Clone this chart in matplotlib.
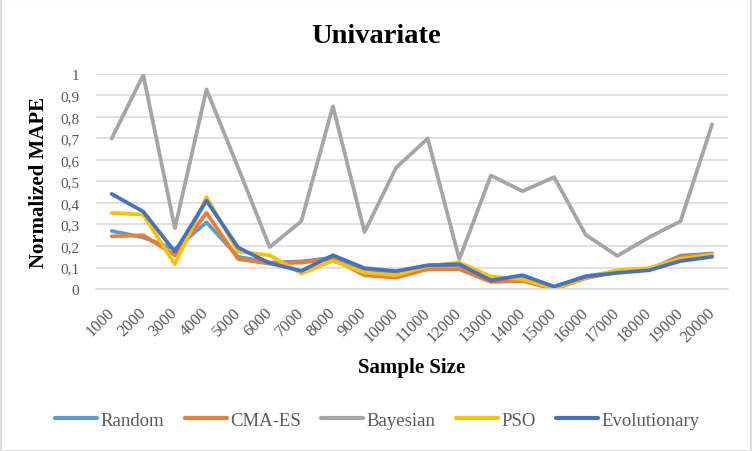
import matplotlib
matplotlib.use("Agg")
import matplotlib.pyplot as plt
from matplotlib.patches import Rectangle

# ── Chart data ──
sample_sizes = [str(n) for n in range(1000, 20001, 1000)]

random_mape = [0.27, 0.24, 0.185, 0.31, 0.15, 0.123, 0.128, 0.146, 0.09, 0.08,
               0.11, 0.11, 0.045, 0.05, 0.01, 0.06, 0.08, 0.09, 0.155, 0.165]
cmaes_mape = [0.245, 0.25, 0.157, 0.354, 0.139, 0.118, 0.123, 0.139, 0.064, 0.053,
              0.092, 0.092, 0.033, 0.037, 0.0, 0.05, 0.08, 0.09, 0.15, 0.16]
bayesian_mape = [0.70, 0.995, 0.283, 0.928, 0.565, 0.195, 0.315, 0.85, 0.265, 0.564,
                 0.70, 0.139, 0.528, 0.455, 0.52, 0.252, 0.154, 0.24, 0.315, 0.766]
pso_mape = [0.354, 0.346, 0.115, 0.427, 0.174, 0.157, 0.072, 0.131, 0.076, 0.064,
            0.107, 0.123, 0.058, 0.045, 0.002, 0.053, 0.087, 0.097, 0.14, 0.16]
evo_mape = [0.442, 0.36, 0.173, 0.411, 0.193, 0.12, 0.084, 0.157, 0.097, 0.083,
            0.11, 0.115, 0.04, 0.064, 0.011, 0.058, 0.075, 0.087, 0.13, 0.15]

series = [
    ("Random", random_mape, "#5B9BD5"),
    ("CMA-ES", cmaes_mape, "#ED7D31"),
    ("Bayesian", bayesian_mape, "#A5A5A5"),
    ("PSO", pso_mape, "#FFC000"),
    ("Evolutionary", evo_mape, "#4472C4"),
]

y_ticks = [i / 10 for i in range(11)]
y_tick_labels = ["0"] + [f"0,{i}" for i in range(1, 10)] + ["1"]

plt.rcParams["font.family"] = ["Liberation Serif", "DejaVu Serif"]
TEXT_GRAY = "#595959"
GRID_GRAY = "#D9D9D9"

fig = plt.figure(figsize=(7.52, 4.52), dpi=100)
ax = fig.add_axes([0.1275, 0.3584, 0.8405, 0.4757])

x = list(range(len(sample_sizes)))
for name, values, color in series:
    ax.plot(x, values, color=color, linewidth=2.7, label=name,
            solid_capstyle="round", solid_joinstyle="round")

ax.set_xlim(-0.5, len(sample_sizes) - 0.5)
ax.set_ylim(0, 1)
ax.set_yticks(y_ticks)
ax.set_yticklabels(y_tick_labels, fontsize=11, color=TEXT_GRAY)
ax.set_xticks(x)
ax.set_xticklabels(sample_sizes, fontsize=12, color=TEXT_GRAY,
                   rotation=45, ha="right", va="center", rotation_mode="anchor")
ax.tick_params(axis="both", length=0)
ax.tick_params(axis="y", pad=12)
ax.tick_params(axis="x", pad=15)

ax.grid(True, axis="y", color=GRID_GRAY, linewidth=1.1)
ax.set_axisbelow(True)
for side in ["top", "right", "left"]:
    ax.spines[side].set_visible(False)
ax.spines["bottom"].set_color(GRID_GRAY)
ax.spines["bottom"].set_linewidth(1.1)

fig.text(0.5, 0.905, "Univariate", ha="center", va="baseline",
         fontsize=20.5, fontweight="bold")
fig.text(0.052, 0.596, "Normalized MAPE", ha="center", va="center",
         rotation=90, fontsize=15, fontweight="bold")
fig.text(0.548, 0.186, "Sample Size", ha="center", va="center",
         fontsize=15, fontweight="bold")

leg = fig.legend(loc="center", bbox_to_anchor=(0.502, 0.068), ncol=5,
                 frameon=False, fontsize=13.5, handlelength=2.24,
                 handletextpad=0.2, columnspacing=1.07)
for t in leg.get_texts():
    t.set_color(TEXT_GRAY)
for line in leg.get_lines():
    line.set_linewidth(3.0)

# light outer border like the exported chart frame
fig.patches.append(Rectangle((0.001, 0.001), 0.998, 0.998, transform=fig.transFigure,
                             fill=False, edgecolor=GRID_GRAY, linewidth=1.5))

fig.savefig("out.png", dpi=100)
